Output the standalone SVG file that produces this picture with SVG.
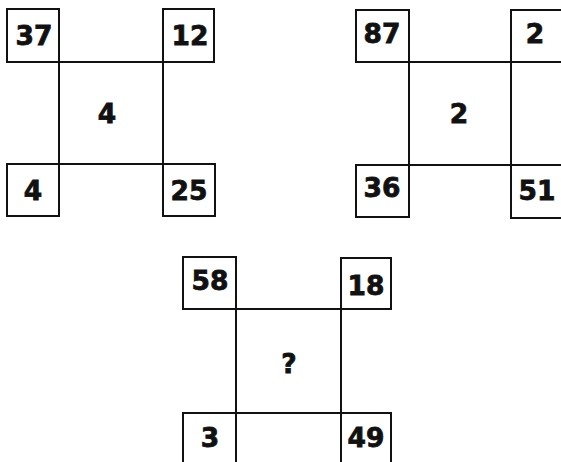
<svg xmlns="http://www.w3.org/2000/svg" width="561" height="462" viewBox="0 0 561 462">
<style>
.b{fill:#fff;stroke:#111;stroke-width:2}
.l{stroke:#111;stroke-width:2;fill:none}
.t{font-family:"DejaVu Sans",sans-serif;font-weight:bold;font-size:26.5px;fill:#111;stroke:#111;stroke-width:0.8;text-anchor:middle}
</style>
<rect width="561" height="462" fill="#fff"/>
<g id="connectors">
<rect class="l" x="59" y="62" width="104" height="102"/>
<rect class="l" x="409" y="62" width="102" height="103"/>
<rect class="l" x="236" y="309" width="105" height="104"/>
</g>
<g id="p1-center"><text class="t" x="107" y="123">4</text></g>
<g id="p1-tl"><rect class="b" x="7" y="9" width="52" height="53"/><text class="t" x="34" y="45">37</text></g>
<g id="p1-tr"><rect class="b" x="163" y="9" width="51" height="53"/><text class="t" x="190" y="45">12</text></g>
<g id="p1-bl"><rect class="b" x="7" y="164" width="52" height="52"/><text class="t" x="33" y="200">4</text></g>
<g id="p1-br"><rect class="b" x="163" y="164" width="52" height="52"/><text class="t" x="189" y="200">25</text></g>
<g id="p2-center"><text class="t" x="459" y="123">2</text></g>
<g id="p2-tl"><rect class="b" x="356" y="10" width="53" height="52"/><text class="t" x="382" y="43">87</text></g>
<g id="p2-tr"><rect class="b" x="511" y="10" width="52" height="52"/><text class="t" x="535" y="43">2</text></g>
<g id="p2-bl"><rect class="b" x="356" y="165" width="53" height="52"/><text class="t" x="382" y="197">36</text></g>
<g id="p2-br"><rect class="b" x="511" y="165" width="52" height="53"/><text class="t" x="537" y="200">51</text></g>
<g id="p3-center"><text class="t" x="289" y="373">?</text></g>
<g id="p3-tl"><rect class="b" x="183" y="257" width="53" height="52"/><text class="t" x="210" y="290">58</text></g>
<g id="p3-tr"><rect class="b" x="341" y="258" width="50" height="51"/><text class="t" x="366" y="295">18</text></g>
<g id="p3-bl"><rect class="b" x="183" y="413" width="53" height="52"/><text class="t" x="210" y="447">3</text></g>
<g id="p3-br"><rect class="b" x="341" y="413" width="50" height="52"/><text class="t" x="366" y="447">49</text></g>
</svg>
